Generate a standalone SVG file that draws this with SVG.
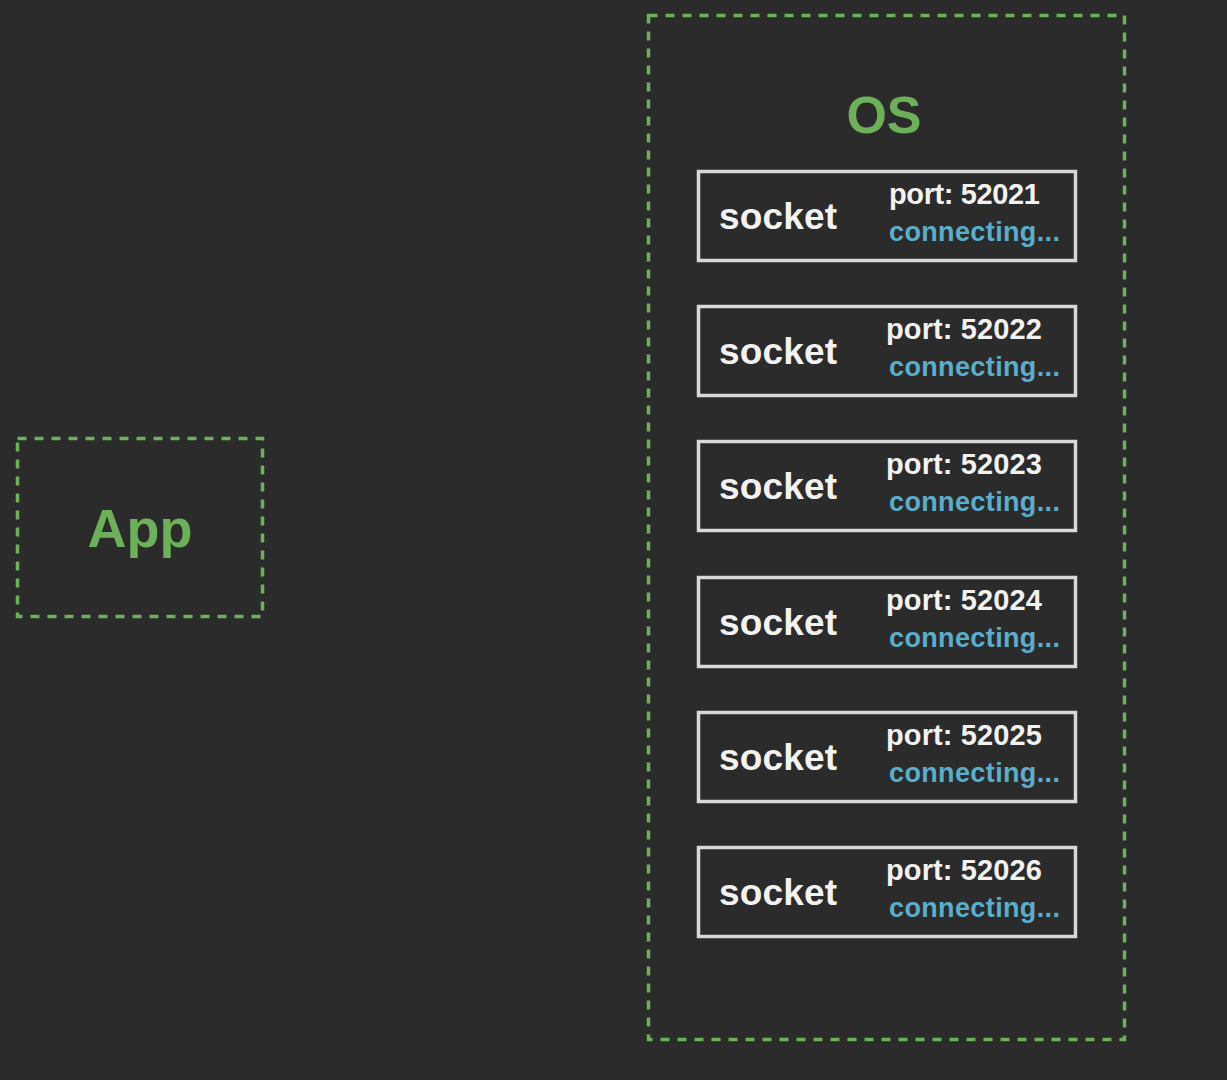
<svg xmlns="http://www.w3.org/2000/svg" width="1227" height="1080" viewBox="0 0 1227 1080">
<style>
.bg{fill:#2b2b2b}
.dash{fill:none;stroke:#6cb05a;stroke-width:3.5;stroke-dasharray:9 8}
.title{font-family:"Liberation Sans",Arial,sans-serif;font-weight:bold;fill:#6cb05a}
.sock{fill:#2b2b2b;stroke:#d8d8d8;stroke-width:3.5}
.lbl{font-family:"Liberation Sans",Arial,sans-serif;font-weight:bold;fill:#f2f2f2;font-size:37px}
.port{font-family:"Liberation Sans",Arial,sans-serif;font-weight:bold;fill:#f2f2f2;font-size:29px}
.conn{font-family:"Liberation Sans",Arial,sans-serif;font-weight:bold;fill:#5aaecb;font-size:27px}
</style>
<rect class="bg" x="0" y="0" width="1227" height="1080"/>
<g id="app">
<rect class="dash" x="17.5" y="438.5" width="245" height="178"/>
<text class="title" x="140" y="547" font-size="54" text-anchor="middle">App</text>
</g>
<g id="os">
<rect class="dash" x="648.5" y="15.5" width="476" height="1024"/>
<text class="title" x="884" y="133" font-size="52" text-anchor="middle">OS</text>
</g>
<g id="socket1">
<rect class="sock" x="698.5" y="171.5" width="377" height="89"/>
<text class="lbl" x="719" y="229" textLength="118">socket</text>
<text class="port" x="889" y="204" textLength="151">port: 52021</text>
<text class="conn" x="889" y="241" textLength="171">connecting...</text>
</g>
<g id="socket2">
<rect class="sock" x="698.5" y="306.5" width="377" height="89"/>
<text class="lbl" x="719" y="364" textLength="118">socket</text>
<text class="port" x="886" y="339" textLength="156">port: 52022</text>
<text class="conn" x="889" y="376" textLength="171">connecting...</text>
</g>
<g id="socket3">
<rect class="sock" x="698.5" y="441.5" width="377" height="89"/>
<text class="lbl" x="719" y="499" textLength="118">socket</text>
<text class="port" x="886" y="474" textLength="156">port: 52023</text>
<text class="conn" x="889" y="511" textLength="171">connecting...</text>
</g>
<g id="socket4">
<rect class="sock" x="698.5" y="577.5" width="377" height="89"/>
<text class="lbl" x="719" y="635" textLength="118">socket</text>
<text class="port" x="886" y="610" textLength="156">port: 52024</text>
<text class="conn" x="889" y="647" textLength="171">connecting...</text>
</g>
<g id="socket5">
<rect class="sock" x="698.5" y="712.5" width="377" height="89"/>
<text class="lbl" x="719" y="770" textLength="118">socket</text>
<text class="port" x="886" y="745" textLength="156">port: 52025</text>
<text class="conn" x="889" y="782" textLength="171">connecting...</text>
</g>
<g id="socket6">
<rect class="sock" x="698.5" y="847.5" width="377" height="89"/>
<text class="lbl" x="719" y="905" textLength="118">socket</text>
<text class="port" x="886" y="880" textLength="156">port: 52026</text>
<text class="conn" x="889" y="917" textLength="171">connecting...</text>
</g>
<g id="connectors"></g>
</svg>
